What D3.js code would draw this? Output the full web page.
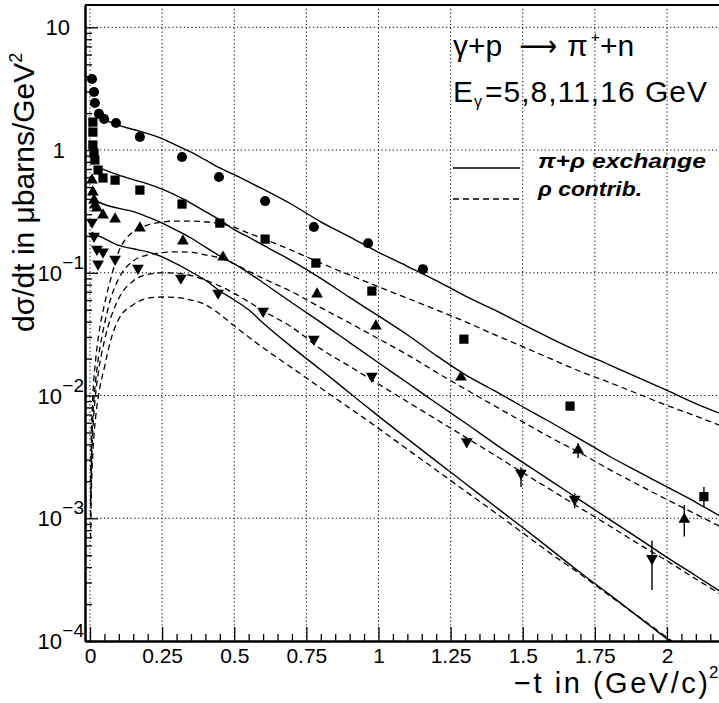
<!DOCTYPE html>
<html><head><meta charset="utf-8">
<script src="https://cdn.jsdelivr.net/npm/d3@7"></script>
<style>
body{margin:0;background:#fff;}
svg{display:block;font-family:"Liberation Sans",Arial,Helvetica,sans-serif;}
</style></head><body>
<svg id="c" width="719" height="703"></svg>
<script>
// ---------------- data ----------------
const energies = [5, 8, 11, 16];
// measured points [ -t , dsigma/dt ]
const data5 = [[0.007,3.79],[0.014,2.97],[0.017,2.42],[0.031,1.97],[0.049,1.79],[0.09,1.66],[0.173,1.28],[0.319,0.877],[0.447,0.603],[0.607,0.384],[0.776,0.236],[0.964,0.174],[1.154,0.107]];
const data8 = [[0.01,1.69],[0.01,1.40],[0.01,1.10],[0.014,0.945],[0.017,0.83],[0.028,0.687],[0.045,0.592],[0.087,0.569],[0.173,0.472],[0.319,0.363],[0.45,0.254],[0.607,0.188],[0.783,0.12],[0.977,0.071],[1.296,0.0288],[1.664,0.0082],[2.128,0.0015]];
const data11 = [[0.007,0.57],[0.01,0.455],[0.014,0.391],[0.017,0.356],[0.024,0.337],[0.045,0.295],[0.087,0.274],[0.173,0.231],[0.322,0.181],[0.461,0.134],[0.787,0.067],[0.991,0.0368],[1.286,0.0141],[1.692,0.0036],[2.06,0.00098]];
const data16 = [[0.007,0.259],[0.014,0.199],[0.024,0.156],[0.028,0.118],[0.045,0.148],[0.087,0.129],[0.166,0.109],[0.315,0.0906],[0.444,0.0684],[0.6,0.0487],[0.776,0.0288],[0.977,0.0144],[1.306,0.0042],[1.494,0.00233],[1.68,0.00143],[1.948,0.00047]];
// error bars [ -t , low , high ]
const err8 = [[2.128,0.00123,0.0018]];
const err11 = [[1.692,0.0031,0.0041],[2.06,0.00071,0.00128]];
const err16 = [[1.494,0.0018,0.0026],[1.68,0.00121,0.0016],[1.948,0.00026,0.00066]];
// model curves: pi+rho exchange (solid)
const piRho5 = [[0.02,2.1],[0.05,1.8],[0.1,1.59],[0.15,1.47],[0.2,1.36],[0.25,1.24],[0.3,1.09],[0.35,0.96],[0.4,0.83],[0.45,0.715],[0.5,0.63],[0.55,0.55],[0.6,0.48],[0.7,0.36],[0.8,0.26],[0.9,0.196],[1.0,0.147],[1.1,0.113],[1.2,0.0865],[1.3,0.065],[1.4,0.05],[1.5,0.038],[1.6,0.029],[1.7,0.0225],[1.8,0.0178],[1.9,0.014],[2.0,0.011],[2.1,0.0086],[2.2,0.0069]];
const piRho8 = [[0.025,0.73],[0.05,0.69],[0.1,0.625],[0.15,0.575],[0.2,0.53],[0.25,0.48],[0.3,0.425],[0.35,0.37],[0.4,0.315],[0.45,0.27],[0.5,0.225],[0.55,0.195],[0.6,0.168],[0.7,0.125],[0.8,0.09],[0.9,0.063],[1.0,0.0445],[1.1,0.0313],[1.2,0.0212],[1.3,0.0148],[1.4,0.011],[1.5,0.0081],[1.6,0.006],[1.7,0.0044],[1.8,0.0032],[1.9,0.0024],[2.0,0.0018],[2.1,0.00135],[2.2,0.00099]];
const piRho11 = [[0.015,0.39],[0.05,0.36],[0.1,0.335],[0.15,0.315],[0.2,0.285],[0.25,0.254],[0.3,0.222],[0.35,0.192],[0.4,0.162],[0.45,0.137],[0.5,0.118],[0.55,0.1],[0.6,0.083],[0.7,0.057],[0.8,0.0395],[0.9,0.027],[1.0,0.0185],[1.1,0.0127],[1.2,0.0087],[1.3,0.006],[1.4,0.0041],[1.5,0.00285],[1.6,0.002],[1.7,0.0014],[1.8,0.00098],[1.9,0.00069],[2.0,0.00048],[2.1,0.00034],[2.2,0.00024]];
const piRho16 = [[0.005,0.215],[0.02,0.205],[0.05,0.19],[0.1,0.167],[0.15,0.157],[0.2,0.148],[0.25,0.135],[0.3,0.118],[0.35,0.102],[0.4,0.087],[0.45,0.071],[0.5,0.06],[0.55,0.05],[0.6,0.039],[0.7,0.0248],[0.8,0.0162],[0.9,0.0105],[1.0,0.0068],[1.1,0.00445],[1.2,0.00292],[1.3,0.00193],[1.4,0.00127],[1.5,0.00084],[1.6,0.00055],[1.7,0.00036],[1.8,0.00024],[1.9,0.000158],[2.0,0.000104],[2.1,0.000069]];
// model curves: rho contribution (dashed)
const rho5 = [[0.002,0.002],[0.005,0.005],[0.01,0.01],[0.02,0.02],[0.03,0.031],[0.05,0.055],[0.075,0.095],[0.1,0.15],[0.125,0.19],[0.15,0.215],[0.2,0.245],[0.25,0.259],[0.3,0.264],[0.35,0.264],[0.4,0.26],[0.45,0.252],[0.5,0.234],[0.55,0.21],[0.6,0.19],[0.7,0.152],[0.8,0.12],[0.9,0.096],[1.0,0.077],[1.1,0.062],[1.2,0.05],[1.3,0.04],[1.4,0.0315],[1.5,0.025],[1.6,0.0198],[1.7,0.0157],[1.8,0.0128],[1.9,0.0103],[2.0,0.0083],[2.1,0.0068],[2.2,0.0055]];
const rho8 = [[0.002,0.00135],[0.005,0.0034],[0.01,0.0068],[0.02,0.0135],[0.03,0.021],[0.05,0.038],[0.075,0.065],[0.1,0.09],[0.15,0.125],[0.2,0.14],[0.25,0.146],[0.3,0.148],[0.35,0.147],[0.4,0.14],[0.45,0.132],[0.5,0.118],[0.55,0.103],[0.6,0.09],[0.7,0.07],[0.8,0.052],[0.9,0.039],[1.0,0.029],[1.1,0.0215],[1.2,0.0155],[1.3,0.0113],[1.4,0.0083],[1.5,0.0061],[1.6,0.0045],[1.7,0.0034],[1.8,0.0025],[1.9,0.00188],[2.0,0.00142],[2.1,0.00108],[2.2,0.00082]];
const rho11 = [[0.002,0.00104],[0.005,0.0026],[0.01,0.0052],[0.02,0.0105],[0.03,0.016],[0.05,0.028],[0.075,0.045],[0.1,0.062],[0.15,0.086],[0.2,0.097],[0.25,0.1],[0.3,0.099],[0.35,0.095],[0.4,0.087],[0.45,0.078],[0.5,0.068],[0.55,0.058],[0.6,0.049],[0.7,0.036],[0.8,0.024],[0.9,0.0173],[1.0,0.0124],[1.1,0.0089],[1.2,0.0064],[1.3,0.0046],[1.4,0.0033],[1.5,0.00235],[1.6,0.00169],[1.7,0.00121],[1.8,0.00087],[1.9,0.00062],[2.0,0.00045],[2.1,0.00032],[2.2,0.00023]];
const rho16 = [[0.002,0.00068],[0.005,0.0017],[0.01,0.0034],[0.02,0.0068],[0.03,0.0102],[0.05,0.017],[0.075,0.03],[0.1,0.042],[0.15,0.055],[0.2,0.062],[0.25,0.0635],[0.3,0.063],[0.35,0.06],[0.4,0.055],[0.45,0.046],[0.5,0.037],[0.6,0.0245],[0.7,0.0168],[0.8,0.0115],[0.9,0.0079],[1.0,0.0054],[1.1,0.00365],[1.2,0.00247],[1.3,0.00167],[1.4,0.00113],[1.5,0.00076],[1.6,0.00051],[1.7,0.00035],[1.8,0.000235],[1.9,0.000159],[2.0,0.000107],[2.1,0.000072]];
// ticks
const xMajor = [0,0.25,0.5,0.75,1,1.25,1.5,1.75,2];
const xMajorLabels = ["0","0.25","0.5","0.75","1","1.25","1.5","1.75","2"];
const yDecades = [1e-4,1e-3,1e-2,1e-1,1,10];
const yDecadeBase = ["10","10","10","10","1","10"];
const yDecadeExp = ["\u22124","\u22123","\u22122","\u22121","",""];

// ---------------- drawing ----------------
const svg = d3.select("#c");
const L=85, T=5, B=641;
const x = d3.scaleLinear().domain([-0.0173, 2.2]).range([L, L + 2.2173*288.5]);
const y = d3.scaleLog().domain([1e-4, 15.2]).range([B, T]);

svg.append("rect").attr("width",719).attr("height",703).attr("fill","#fff");

// grid
const grid = svg.append("g").attr("stroke","#000").attr("stroke-width",1).attr("stroke-dasharray","1.2,2.6");
grid.selectAll("line.gx").data(xMajor).join("line")
  .attr("x1",d=>x(d)).attr("x2",d=>x(d)).attr("y1",T).attr("y2",B);
grid.selectAll("line.gy").data(yDecades.filter(d=>d>1e-4)).join("line")
  .attr("class","gy").attr("x1",L).attr("x2",725).attr("y1",d=>y(d)).attr("y2",d=>y(d));

// axes
const xMinor = d3.range(1,45).map(i=>+(i*0.05).toFixed(2)).filter(v=>Math.abs(v/0.25-Math.round(v/0.25))>1e-6);
const gx = svg.append("g").attr("transform",`translate(0,${B})`);
gx.call(d3.axisBottom(x).tickValues(xMinor).tickSize(-7).tickSizeOuter(0).tickFormat(""));
const gx2 = svg.append("g").attr("transform",`translate(0,${B})`);
gx2.call(d3.axisBottom(x).tickValues(xMajor).tickSize(-14).tickSizeOuter(0).tickPadding(7)
  .tickFormat((d,i)=>xMajorLabels[i]));
[gx,gx2].forEach(g=>{g.selectAll("line").attr("stroke-width",1.3);g.select(".domain").attr("stroke-width",1.8);});
gx2.selectAll("text").attr("font-size",21).attr("font-family","Liberation Sans, Arial, sans-serif").attr("fill","#000");

const yMinor = [];
[1e-4,1e-3,1e-2,1e-1,1].forEach(dd=>{for(let k=2;k<=9;k++) yMinor.push(dd*k);});
const gy = svg.append("g").attr("transform",`translate(${L},0)`);
gy.call(d3.axisLeft(y).tickValues(yMinor).tickSize(-7).tickSizeOuter(0).tickFormat(""));
const gy2 = svg.append("g").attr("transform",`translate(${L},0)`);
gy2.call(d3.axisLeft(y).tickValues(yDecades).tickSize(-13).tickSizeOuter(0).tickFormat(""));
[gy,gy2].forEach(g=>{g.selectAll("line").attr("stroke-width",1.3);g.select(".domain").attr("stroke-width",2);});

// top frame line
svg.append("line").attr("x1",L).attr("x2",725).attr("y1",T).attr("y2",T).attr("stroke","#000").attr("stroke-width",2);

// y tick labels
yDecades.forEach((d,i)=>{
  const yy = y(d);
  if (yDecadeExp[i]==="") {
    svg.append("text").attr("x", i===5?70:65).attr("y",yy+8).attr("text-anchor","end")
      .attr("font-size",22).text(yDecadeBase[i]);
  } else {
    svg.append("text").attr("x",62).attr("y",yy+8).attr("text-anchor","end")
      .attr("font-size",22).text(yDecadeBase[i]);
    svg.append("text").attr("x",84).attr("y",yy-4).attr("text-anchor","end")
      .attr("font-size",19).text(yDecadeExp[i]);
  }
});

// curves
svg.append("clipPath").attr("id","clip").append("rect").attr("x",L).attr("y",T).attr("width",640).attr("height",B-T);
const line = d3.line().x(d=>x(d[0])).y(d=>y(d[1])).curve(d3.curveMonotoneX);
const curves = svg.append("g").attr("clip-path","url(#clip)").attr("fill","none").attr("stroke","#000");
[piRho5,piRho8,piRho11,piRho16].forEach(c=>curves.append("path").attr("d",line(c)).attr("stroke-width",1.4));
[rho5,rho8,rho11,rho16].forEach(c=>curves.append("path").attr("d",line(c)).attr("stroke-width",1.3).attr("stroke-dasharray","6,4"));

// error bars
const eg = svg.append("g").attr("stroke","#000").attr("stroke-width",1.4);
[err8,err11,err16].forEach(arr=>arr.forEach(e=>{
  eg.append("line").attr("x1",x(e[0])).attr("x2",x(e[0])).attr("y1",y(e[1])).attr("y2",y(e[2]));
}));

// markers
const sym = (type,size)=>d3.symbol().type(type).size(size)();
const mg = svg.append("g").attr("fill","#000");
const series = [
  {d:data5, p:sym(d3.symbolCircle,80), r:0},
  {d:data8, p:sym(d3.symbolSquare,85), r:0},
  {d:data11, p:sym(d3.symbolTriangle,60), r:0},
  {d:data16, p:sym(d3.symbolTriangle,60), r:180}
];
series.forEach(s=>{
  mg.selectAll(null).data(s.d).join("path").attr("d",s.p)
    .attr("transform",d=>`translate(${x(d[0])},${y(d[1])}) rotate(${s.r})`);
});

// title texts
const tg = svg.append("g").attr("fill","#000");
tg.append("text").attr("x",453).attr("y",56).attr("font-size",30).text("\u03b3+p");
tg.append("text").attr("x",519).attr("y",56).attr("font-size",30).attr("font-family","DejaVu Sans, sans-serif").attr("textLength",38).attr("lengthAdjust","spacingAndGlyphs").text("\u27f6");
tg.append("text").attr("x",567).attr("y",56).attr("font-size",30).text("\u03c0");
tg.append("text").attr("x",591).attr("y",42).attr("font-size",15).text("+");
tg.append("text").attr("x",600).attr("y",56).attr("font-size",30).text("+n");

tg.append("text").attr("x",453).attr("y",102).attr("font-size",30).text("E");
tg.append("text").attr("x",474).attr("y",107).attr("font-size",16).text("\u03b3");
tg.append("text").attr("x",485).attr("y",102).attr("font-size",30).attr("textLength",222).attr("lengthAdjust","spacing").text("=5,8,11,16 GeV");

// legend
const lg = svg.append("g");
lg.append("line").attr("x1",453).attr("x2",520).attr("y1",168).attr("y2",168).attr("stroke","#000").attr("stroke-width",1.4);
lg.append("line").attr("x1",453).attr("x2",520).attr("y1",199).attr("y2",199).attr("stroke","#000").attr("stroke-width",1.3).attr("stroke-dasharray","6,4");
lg.append("text").attr("x",538).attr("y",168).attr("font-size",21).attr("font-weight","bold").attr("font-style","italic")
  .attr("textLength",168).attr("lengthAdjust","spacingAndGlyphs").text("\u03c0+\u03c1 exchange");
lg.append("text").attr("x",538).attr("y",196).attr("font-size",21).attr("font-weight","bold").attr("font-style","italic")
  .attr("textLength",104).attr("lengthAdjust","spacingAndGlyphs").text("\u03c1 contrib.");

// axis titles
svg.append("text").attr("x",514).attr("y",693).attr("font-size",29).attr("textLength",194).attr("lengthAdjust","spacing").text("\u2212t in (GeV/c)");
svg.append("text").attr("x",709).attr("y",678).attr("font-size",17).text("2");

const yt = svg.append("text").attr("transform","rotate(-90)").attr("x",-332).attr("y",34).attr("font-size",30);
yt.append("tspan").text("d\u03c3/dt in \u03bcbarns/GeV");
yt.append("tspan").attr("font-size",18).attr("dy",-12).text("2");
</script>
</body></html>
